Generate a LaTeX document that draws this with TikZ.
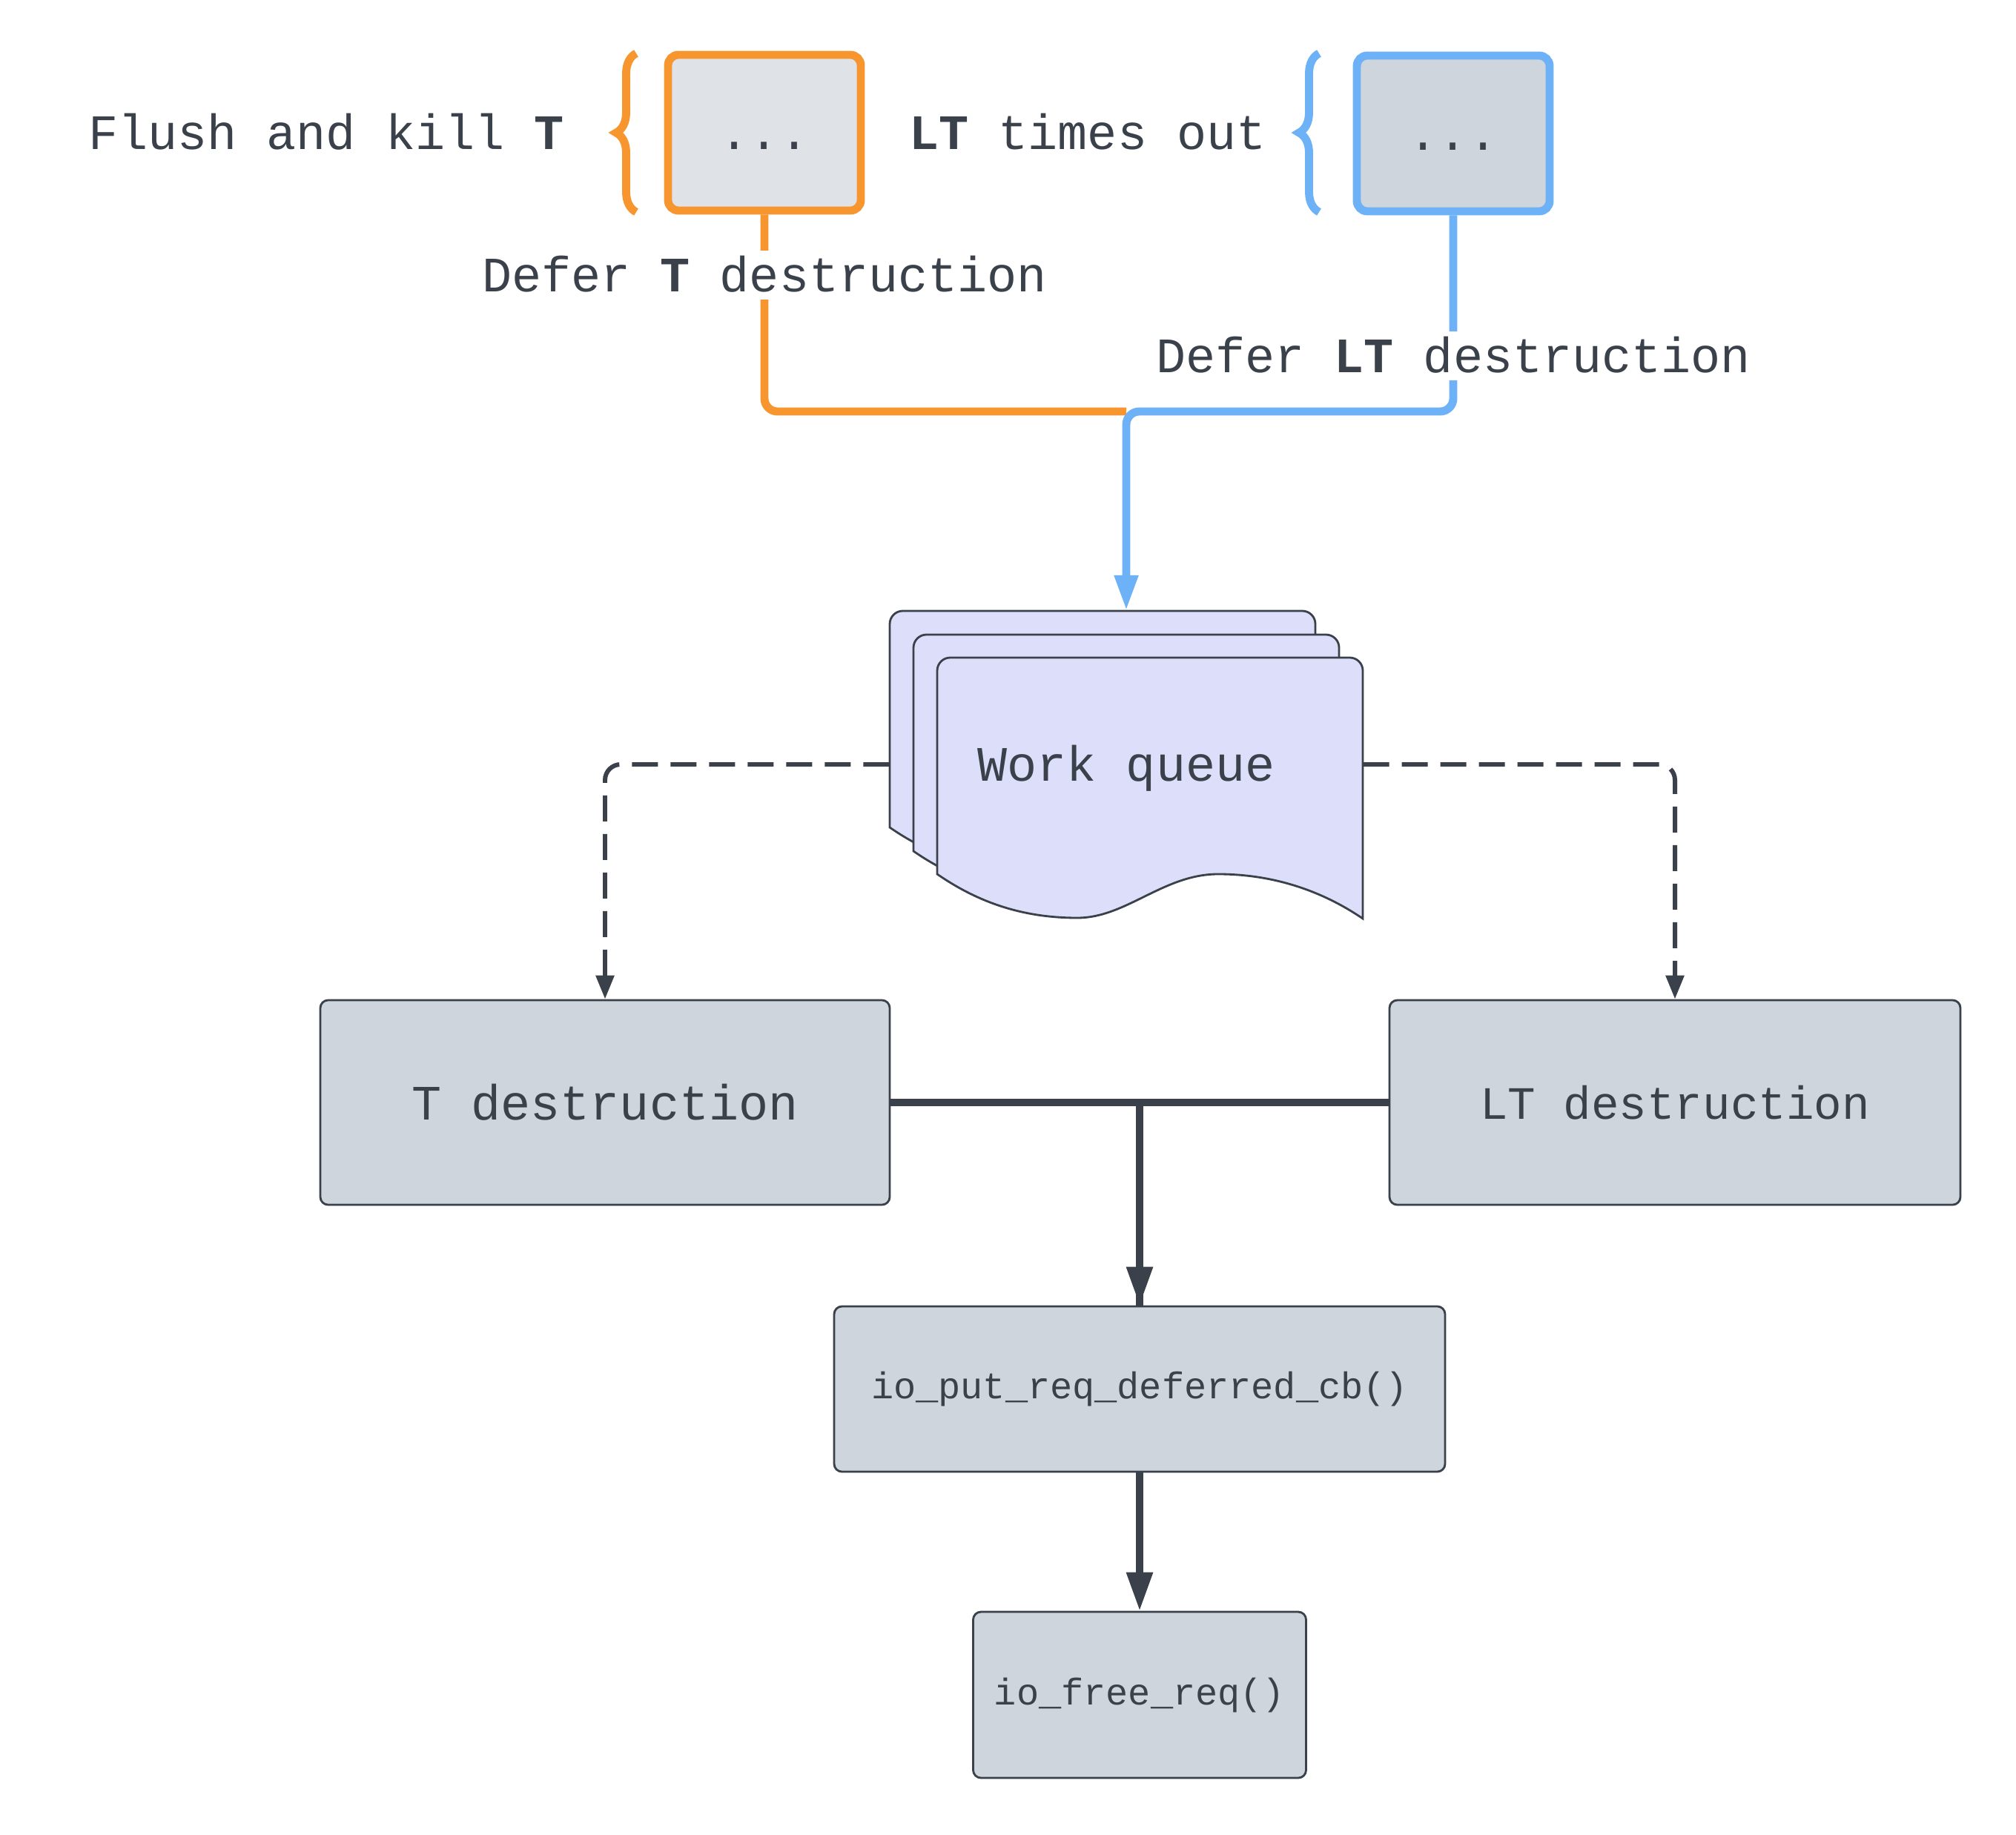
\documentclass[tikz,border=0pt]{standalone}
\usepackage{fontspec}
\setmainfont{Liberation Mono}
\usetikzlibrary{positioning}
\usetikzlibrary{arrows.meta}
\usetikzlibrary{decorations.pathreplacing}
\definecolor{lineorange}{HTML}{F7952F}
\definecolor{lineblue}{HTML}{6DB1F6}
\definecolor{inkdark}{HTML}{3A414A}
\definecolor{boxgray}{HTML}{CED5DD}
\definecolor{palegray}{HTML}{DFE3E8}
\definecolor{queueblue}{HTML}{DDDFFA}

\begin{document}
\begin{tikzpicture}
\tikzset{
  caption/.style={text=inkdark, font=\fontsize{19}{23}\selectfont, inner sep=2pt, text height=13pt, text depth=0pt},
  edgelabel/.style={caption, fill=white, inner sep=3pt},
  holder/.style={rectangle, rounded corners=4pt, line width=3.1pt, minimum width=2.6cm, minimum height=2.1cm, text=inkdark, font=\fontsize{19}{23}\selectfont, text height=13pt, text depth=0pt},
  curly/.style={decorate, decoration={brace, amplitude=0.27cm}, line width=3.1pt},
  flow/.style={line width=3.1pt, rounded corners=5pt},
  stepbox/.style={rectangle, rounded corners=3pt, draw=inkdark, line width=0.8pt, fill=boxgray, text=inkdark},
  dashflow/.style={draw=inkdark, line width=1.7pt, dash pattern=on 0.35cm off 0.17cm, rounded corners=6pt, -{Triangle[length=0.32cm,width=0.24cm]}},
  mainflow/.style={draw=inkdark, line width=2.6pt, -{Triangle[length=0.52cm,width=0.34cm]}},
  sheet/.pic={
    \draw[draw=inkdark, line width=0.8pt, fill=queueblue] (0,-2.92) [rounded corners=5pt] -- (0,0) -- (5.74,0) -- (5.74,-1) [sharp corners] -- (5.74,-3.52)
      .. controls (5.05,-3.05) and (4.35,-2.92) .. (3.79,-2.92)
      .. controls (3.05,-2.92) and (2.55,-3.51) .. (1.89,-3.51)
      .. controls (1.15,-3.51) and (0.55,-3.30) .. (0,-2.92) -- cycle;
  },
}
\useasboundingbox (0,0) rectangle (27.19,-24.75);
% top row
\node[caption] (flushT) at (4.40,-1.79) {Flush and kill \textbf{T}};
\node[holder, draw=lineorange, fill=palegray] (dotsT) at (10.31,-1.79) {...};
\node[caption] (ltout) at (14.67,-1.79) {\textbf{LT} times out};
\node[holder, draw=lineblue, fill=boxgray] (dotsLT) at (19.60,-1.80) {...};
\draw[curly, draw=lineorange] (8.58,-2.86) -- (8.58,-0.72);
\draw[curly, draw=lineblue] (17.79,-2.86) -- (17.79,-0.72);
%
\coordinate (merge) at (15.19,-5.55);
% work queue
\pic at (12.00,-8.24) {sheet};
\pic at (12.32,-8.56) {sheet};
\pic at (12.64,-8.87) {sheet};
\node[text=inkdark, font=\fontsize{19}{23}\selectfont, text height=13pt, text depth=0pt, minimum width=6.38cm, minimum height=4.13cm] (queue) at (15.19,-10.31) {Work queue};
%
\draw[flow, lineorange] (dotsT.south) |- (merge);
\draw[flow, lineblue, -{Triangle[length=0.48cm,width=0.3cm]}] (dotsLT.south) |- (merge) -- (queue.north);
\node[edgelabel] (deferT) at (10.31,-3.71) {Defer \textbf{T} destruction};
\node[edgelabel] (deferLT) at (19.60,-4.80) {Defer \textbf{LT} destruction};
% destruction
\node[stepbox, minimum width=7.68cm, minimum height=2.76cm, font=\fontsize{19}{23}\selectfont] (tdest) at (8.16,-14.87) {T destruction};
\node[stepbox, minimum width=7.70cm, minimum height=2.76cm, font=\fontsize{17.8}{22}\selectfont] (ltdest) at (22.59,-14.87) {LT destruction};
\node[stepbox, minimum width=8.24cm, minimum height=2.23cm, font=\fontsize{14.3}{17}\selectfont] (putcb) at (15.37,-18.735) {io\_put\_req\_deferred\_cb()};
\node[stepbox, minimum width=4.49cm, minimum height=2.24cm, font=\fontsize{14.3}{17}\selectfont] (freereq) at (15.37,-22.86) {io\_free\_req()};
%
\draw[dashflow] (queue.west) -| (tdest.north);
\draw[dashflow] (queue.east) -| (ltdest.north);
\draw[mainflow] (tdest.east) -| (putcb.north);
\draw[mainflow, -] (ltdest.west) -| (putcb.north);
\draw[mainflow] (putcb) -- (freereq);
\end{tikzpicture}
\end{document}
